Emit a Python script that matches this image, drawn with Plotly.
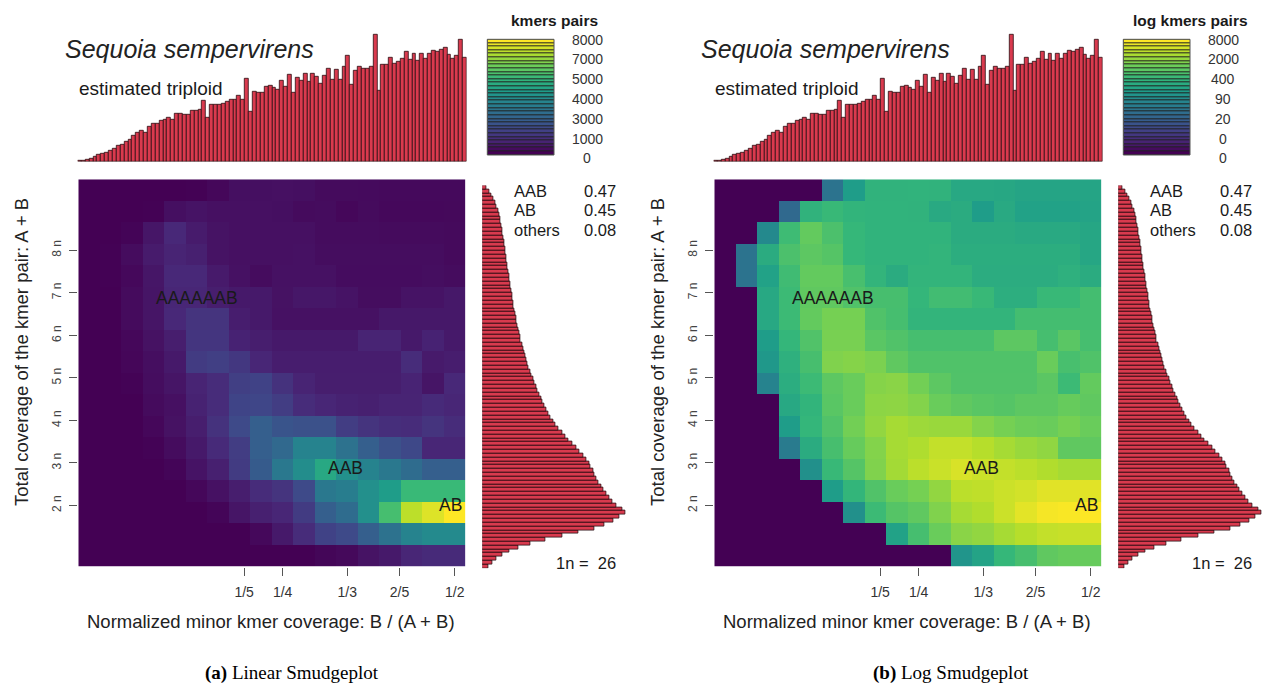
import numpy as np
import plotly.graph_objects as go

W, H = 1264, 691


def px(x):
    return x / W


def py(y):
    return 1 - y / H


# ---------------- data ----------------
species = "Sequoia sempervirens"
ploidy_text = "estimated triploid"
x_tick_labels = ["1/5", "1/4", "1/3", "2/5", "1/2"]
y_tick_labels = ["2 n", "3 n", "4 n", "5 n", "6 n", "7 n", "8 n"]
linear_cb_labels = ["0", "1000", "3000", "4000", "5000", "7000", "8000"]
log_cb_labels = ["0", "0", "20", "90", "400", "2000", "8000"]
fraction_names = ["AAB", "AB", "others"]
fraction_values = ["0.47", "0.45", "0.08"]
n1_value = 26
smudge_labels = ["AAAAAAB", "AAB", "AB"]
smudge_label_col = [5.0, 11.9, 16.8]
smudge_label_row = [12.0, 4.1, 2.37]

# kmer pair counts, rows listed from top (high coverage) to bottom (low coverage),
# columns from low to high minor coverage ratio
kmer_pairs_top_down = [
    [0, 0, 0, 0, 0, 30, 140, 330, 330, 340, 330, 220, 220, 210, 190, 190, 190, 190],
    [0, 0, 0, 20, 330, 420, 350, 340, 340, 330, 230, 250, 140, 230, 170, 170, 170, 180],
    [0, 0, 68, 470, 900, 600, 400, 340, 340, 340, 340, 250, 250, 250, 230, 230, 230, 200],
    [0, 30, 250, 600, 800, 700, 400, 340, 340, 340, 360, 270, 270, 270, 270, 270, 270, 200],
    [0, 30, 170, 480, 900, 900, 560, 360, 250, 360, 360, 360, 260, 260, 260, 260, 300, 250],
    [0, 0, 220, 450, 850, 850, 650, 550, 550, 380, 500, 500, 420, 280, 280, 420, 420, 520],
    [0, 0, 220, 450, 900, 1200, 1200, 640, 540, 360, 360, 360, 360, 360, 520, 520, 520, 520],
    [0, 0, 140, 380, 650, 1250, 1250, 760, 650, 540, 540, 540, 540, 800, 800, 540, 760, 540],
    [0, 0, 120, 300, 550, 1400, 1500, 1300, 850, 640, 640, 640, 640, 640, 640, 1000, 560, 640],
    [0, 0, 55, 263, 450, 800, 1000, 1500, 1600, 1150, 800, 650, 650, 650, 650, 780, 450, 900],
    [0, 0, 0, 220, 350, 750, 1000, 1650, 1700, 1450, 1000, 850, 750, 700, 800, 800, 950, 850],
    [0, 0, 0, 140, 380, 650, 1150, 1800, 2400, 2100, 2000, 2000, 1450, 1200, 1050, 1000, 1200, 1000],
    [0, 0, 0, 40, 250, 550, 950, 1450, 2400, 2700, 3600, 3600, 3000, 2400, 2000, 1750, 850, 850],
    [0, 0, 0, 0, 90, 420, 700, 1400, 2300, 3200, 3900, 4800, 4000, 3600, 3200, 2800, 2400, 2400],
    [0, 0, 0, 0, 0, 140, 370, 650, 1000, 1200, 1800, 3200, 3400, 4000, 4400, 5400, 5400, 5400],
    [0, 0, 0, 0, 0, 0, 90, 450, 700, 850, 1400, 2400, 2800, 4000, 5600, 7200, 7600, 8000],
    [0, 0, 0, 0, 0, 0, 0, 0, 170, 540, 1000, 1600, 1800, 2400, 3000, 3600, 3800, 3800],
    [0, 0, 0, 0, 0, 0, 0, 0, 0, 0, 0, 107, 180, 400, 550, 850, 950, 950],
]

# histogram of minor coverage ratio (top), 100 bins
ratio_hist = [
    0.7, 1.3, 2.3, 3.3, 5.0, 7.0, 8.0, 9.0, 11.0, 13.0,
    15.7, 17.0, 20.0, 21.7, 25.7, 29.0, 31.0, 29.5, 35.0, 37.7,
    38.0, 40.7, 42.0, 44.0, 42.0, 48.0, 48.0, 47.5, 47.5, 50.7,
    50.7, 52.0, 60.7, 44.3, 56.7, 56.7, 57.5, 58.3, 60.0, 61.7,
    61.7, 65.7, 62.3, 83.3, 50.0, 70.0, 69.0, 69.0, 75.0, 75.7,
    74.0, 71.7, 81.3, 75.0, 87.3, 69.0, 84.0, 80.7, 88.3, 80.0,
    88.3, 85.0, 78.3, 86.3, 93.3, 82.3, 92.3, 81.7, 94.7, 106.3,
    77.3, 91.3, 94.7, 93.3, 93.0, 95.0, 127.3, 70.7, 97.3, 96.7,
    104.0, 98.3, 100.0, 103.3, 109.7, 102.3, 107.7, 101.0, 107.7, 103.0,
    108.0, 111.0, 110.0, 112.0, 114.0, 107.0, 103.0, 106.0, 121.7, 104.3,
]

# histogram of total coverage (right), 100 bins from low to high coverage
coverage_hist = [
    6, 10, 14, 20, 27, 36, 48, 63, 80, 96,
    112, 122, 131, 137, 143, 140, 134, 130, 127, 124,
    121, 119, 116, 114, 112, 111, 108, 107, 104, 101,
    97, 94, 90, 86, 83, 80, 76, 73, 71, 68,
    66, 64, 62, 60, 59, 57, 55, 54, 52, 51,
    49, 48, 46, 45, 44, 43, 42, 41, 40, 38,
    38, 37, 36, 35, 34, 34, 33, 32, 31, 31,
    30, 30, 29, 28, 28, 27, 27, 26, 25, 25,
    24, 24, 23, 23, 22, 22, 21, 20, 20, 19,
    18, 18, 17, 16, 14, 13, 11, 9, 7, 4,
]

# ---------------- layout constants ----------------
x_tick_pos = [7.21, 9.0, 12.0, 14.43, 17.0]
y_tick_pos = [2.34, 4.32, 6.30, 8.27, 10.25, 12.23, 14.20]
n_bands = 32
BAR_FILL = "#d93a4e"
BAR_EDGE = "#2a0d12"
TXT = "#1a1a1a"
FONT = "Liberation Sans"

kmer_pairs = np.array(kmer_pairs_top_down[::-1], dtype=float)
n_rows, n_cols = kmer_pairs.shape
zmax_lin = 8000.0

fig = go.Figure()
layout = dict(
    width=W, height=H, margin=dict(l=0, r=0, t=0, b=0),
    paper_bgcolor="white", plot_bgcolor="white", showlegend=False,
    bargap=0, font=dict(family=FONT, color=TXT),
)
annotations = []
shapes = []


def ax_name(i, kind):
    return kind + ("axis" if i == 1 else "axis%d" % i)


def ref(i, kind):
    return kind + ("" if i == 1 else str(i))


panels = [
    dict(dx=0, z=kmer_pairs, zmax=zmax_lin, cb_title="kmers pairs", cb_labels=linear_cb_labels,
         caption="<b>(a)</b> Linear Smudgeplot", cap_x=291.5),
    dict(dx=636, z=np.log(kmer_pairs + 1), zmax=np.log(zmax_lin + 1), cb_title="log kmers pairs",
         cb_labels=log_cb_labels, caption="<b>(b)</b> Log Smudgeplot", cap_x=951),
]

for p_i, p in enumerate(panels):
    dx = p["dx"]
    a_hm, a_top, a_right, a_cb = [4 * p_i + k for k in (1, 2, 3, 4)]

    # heatmap
    fig.add_trace(go.Heatmap(
        z=p["z"], x=list(range(n_cols)), y=list(range(n_rows)),
        colorscale="Viridis", zmin=0, zmax=p["zmax"], showscale=False,
        xaxis=ref(a_hm, "x"), yaxis=ref(a_hm, "y"), hoverinfo="skip"))
    layout[ax_name(a_hm, "x")] = dict(
        domain=[px(78.3 + dx), px(465.5 + dx)], range=[-0.5, n_cols - 0.5],
        anchor=ref(a_hm, "y"), tickvals=x_tick_pos, ticktext=x_tick_labels,
        ticks="outside", ticklen=8, tickcolor="#555", showgrid=False, zeroline=False,
        showline=False, tickfont=dict(size=14, color="#333"), ticklabelstandoff=4)
    layout[ax_name(a_hm, "y")] = dict(
        domain=[py(566.7), py(179.3)], range=[-0.5, n_rows - 0.5],
        anchor=ref(a_hm, "x"), tickvals=y_tick_pos, ticktext=y_tick_labels,
        tickangle=-90, ticks="outside", ticklen=8, tickcolor="#555", showgrid=False,
        zeroline=False, showline=False, tickfont=dict(size=12, color="#444"),
        ticklabelstandoff=4)
    for lab, cx, cy in zip(smudge_labels, smudge_label_col, smudge_label_row):
        annotations.append(dict(text=lab, x=cx, y=cy, xref=ref(a_hm, "x"), yref=ref(a_hm, "y"),
                                showarrow=False, font=dict(size=17.5, color=TXT)))

    # top histogram
    fig.add_trace(go.Bar(
        x=list(range(len(ratio_hist))), y=ratio_hist, width=1,
        marker=dict(color=BAR_FILL, line=dict(color=BAR_EDGE, width=0.8)),
        xaxis=ref(a_top, "x"), yaxis=ref(a_top, "y"), hoverinfo="skip"))
    layout[ax_name(a_top, "x")] = dict(
        domain=[px(77.7 + dx), px(466.7 + dx)], range=[-0.5, len(ratio_hist) - 0.5],
        anchor=ref(a_top, "y"), visible=False)
    layout[ax_name(a_top, "y")] = dict(
        domain=[py(161.7), py(31.7)], range=[0, 130], anchor=ref(a_top, "x"), visible=False)

    # right histogram
    fig.add_trace(go.Bar(
        y=list(range(len(coverage_hist))), x=coverage_hist, orientation="h", width=1,
        marker=dict(color=BAR_FILL, line=dict(color=BAR_EDGE, width=0.8)),
        xaxis=ref(a_right, "x"), yaxis=ref(a_right, "y"), hoverinfo="skip"))
    layout[ax_name(a_right, "x")] = dict(
        domain=[px(482.3 + dx), px(627.3 + dx)], range=[0, 145], anchor=ref(a_right, "y"),
        visible=False)
    layout[ax_name(a_right, "y")] = dict(
        domain=[py(568.3), py(185.5)], range=[-0.5, len(coverage_hist) - 0.5],
        anchor=ref(a_right, "x"), visible=False)

    # colour key
    fig.add_trace(go.Heatmap(
        z=[[i] for i in range(n_bands)], x=[0], y=list(range(n_bands)), ygap=1,
        colorscale="Viridis", zmin=0, zmax=n_bands - 1, showscale=False,
        xaxis=ref(a_cb, "x"), yaxis=ref(a_cb, "y"), hoverinfo="skip"))
    layout[ax_name(a_cb, "x")] = dict(
        domain=[px(487.3 + dx), px(554 + dx)], range=[-0.5, 0.5], anchor=ref(a_cb, "y"),
        visible=False)
    layout[ax_name(a_cb, "y")] = dict(
        domain=[py(155), py(39.3)], range=[-0.5, n_bands - 0.5], anchor=ref(a_cb, "x"),
        visible=False)
    shapes.append(dict(type="rect", xref="paper", yref="paper", layer="below",
                       x0=px(487.3 + dx), x1=px(554 + dx), y0=py(155), y1=py(39.3),
                       fillcolor="#222", line=dict(width=0)))
    shapes.append(dict(type="rect", xref="paper", yref="paper", layer="above",
                       x0=px(487.3 + dx), x1=px(554 + dx), y0=py(155), y1=py(39.3),
                       fillcolor="rgba(0,0,0,0)", line=dict(color="#555", width=1)))
    for k, lab in enumerate(p["cb_labels"][::-1]):
        annotations.append(dict(text=lab, x=px(587 + dx), y=py(39.7 + k * 19.77),
                                xref="paper", yref="paper", showarrow=False,
                                xanchor="center", yanchor="middle",
                                font=dict(size=14, color="#333")))
    annotations.append(dict(text="<b>%s</b>" % p["cb_title"], x=px(554 + dx), y=py(20),
                            xref="paper", yref="paper", showarrow=False, xanchor="center",
                            yanchor="middle", font=dict(size=15.5, color=TXT)))

    # species and ploidy
    annotations.append(dict(text="<i>%s</i>" % species, x=px(62.7 + dx), y=py(49),
                            xref="paper", yref="paper", showarrow=False, xanchor="left",
                            yanchor="middle", font=dict(size=25, color="#222")))
    annotations.append(dict(text=ploidy_text, x=px(76.7 + dx), y=py(88.5),
                            xref="paper", yref="paper", showarrow=False, xanchor="left",
                            yanchor="middle", font=dict(size=19, color=TXT)))

    # fractions legend
    for k, (nm, val) in enumerate(zip(fraction_names, fraction_values)):
        yy = py(190.5 + k * 19.7)
        annotations.append(dict(text=nm, x=px(511.7 + dx), y=yy, xref="paper", yref="paper",
                                showarrow=False, xanchor="left", yanchor="middle",
                                font=dict(size=16.5, color=TXT)))
        annotations.append(dict(text=val, x=px(617.7 + dx), y=yy, xref="paper", yref="paper",
                                showarrow=False, xanchor="right", yanchor="middle",
                                font=dict(size=16.5, color=TXT)))
    annotations.append(dict(text="1n =  %d" % n1_value, x=px(617.7 + dx), y=py(563.3),
                            xref="paper", yref="paper", showarrow=False, xanchor="right",
                            yanchor="middle", font=dict(size=16.5, color=TXT)))

    # axis titles
    annotations.append(dict(text="Normalized minor kmer coverage: B / (A + B)",
                            x=px(271 + dx), y=py(621), xref="paper", yref="paper",
                            showarrow=False, xanchor="center", yanchor="middle",
                            font=dict(size=18.5, color="#222")))
    annotations.append(dict(text="Total coverage of the kmer pair: A + B",
                            x=px(22 + dx), y=py(352), xref="paper", yref="paper",
                            showarrow=False, xanchor="center", yanchor="middle", textangle=-90,
                            font=dict(size=18.5, color="#222")))

    # caption
    annotations.append(dict(text=p["caption"], x=px(p["cap_x"]), y=py(673),
                            xref="paper", yref="paper", showarrow=False, xanchor="center",
                            yanchor="middle",
                            font=dict(size=19, color="black", family="Liberation Serif")))

layout["annotations"] = annotations
layout["shapes"] = shapes
fig.update_layout(**layout)
fig.write_html("out.html")
